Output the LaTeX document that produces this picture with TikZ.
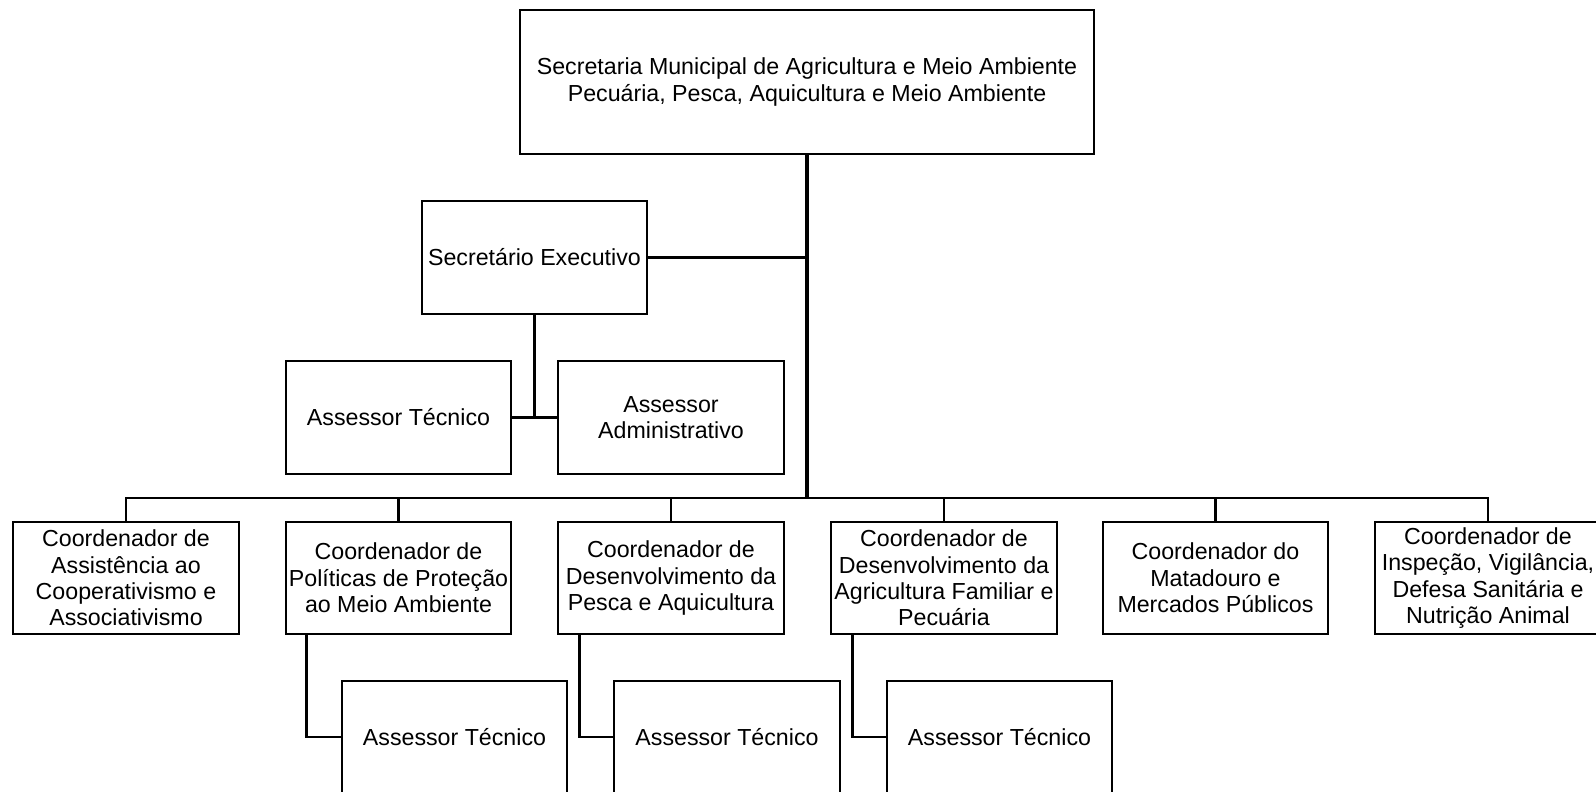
\documentclass[tikz,border=0pt]{standalone}
\usepackage{fontspec}
\setmainfont{Liberation Sans}
\begin{document}
\begin{tikzpicture}[x=0.5pt,y=-0.5pt,
  box/.style={draw, line width=1.35pt, rectangle, align=center, inner sep=0pt,
    font=\fontsize{11.6}{13.2}\selectfont},
  conn/.style={line width=1.35pt},
  trunk/.style={line width=2.1pt}]
\useasboundingbox (0,0) rectangle (1596,792);
\clip (0,0) rectangle (1596,792);
% top
\node[box, minimum width=287pt, minimum height=72pt, font=\fontsize{11.6}{13.5}\selectfont] (top) at (807,82)
  {Secretaria Municipal de Agricultura e Meio Ambiente\\Pecuária, Pesca, Aquicultura e Meio Ambiente};
% executive level
\node[box, minimum width=112.5pt, minimum height=56.5pt] (sec) at (534.5,257.5) {Secretário Executivo};
\node[box, minimum width=112.5pt, minimum height=56.5pt] (at1) at (398.5,417.5) {Assessor Técnico};
\node[box, minimum width=113pt, minimum height=56.5pt] (aadm) at (671,417.5) {Assessor\\Administrativo};
% coordinators
\node[box, minimum width=113pt, minimum height=56pt] (c1) at (126,578)
  {Coordenador de\\Assistência ao\\Cooperativismo e\\Associativismo};
\node[box, minimum width=112.5pt, minimum height=56pt] (c2) at (398.5,578)
  {Coordenador de\\Políticas de Proteção\\ao Meio Ambiente};
\node[box, minimum width=113pt, minimum height=56pt] (c3) at (671,578)
  {Coordenador de\\Desenvolvimento da\\Pesca e Aquicultura};
\node[box, minimum width=113pt, minimum height=56pt] (c4) at (944,578)
  {Coordenador de\\Desenvolvimento da\\Agricultura Familiar e\\Pecuária};
\node[box, minimum width=112.5pt, minimum height=56pt] (c5) at (1215.5,578)
  {Coordenador do\\Matadouro e\\Mercados Públicos};
\node[box, minimum width=113pt, minimum height=56pt] (c6) at (1488,578)
  {Coordenador de\\Inspeção, Vigilância,\\Defesa Sanitária e\\Nutrição Animal};
% bottom advisors
\node[box, minimum width=112.5pt, minimum height=56pt] (b1) at (454.5,737) {Assessor Técnico};
\node[box, minimum width=113pt, minimum height=56pt] (b2) at (727,737) {Assessor Técnico};
\node[box, minimum width=112.5pt, minimum height=56pt] (b3) at (999.5,737) {Assessor Técnico};
% connectors
\coordinate (bus) at (807,498);
\draw[trunk] (top.south) -- (bus);
\draw[conn] (sec.east) -- (sec.east -| top.south);
\draw[conn] (sec.south) -- (sec.south |- at1.east);
\draw[conn] (at1.east) -- (aadm.west);
\draw[conn] (c1.north) |- (bus) -| (c6.north);
\foreach \c in {c2,c3,c4,c5} \draw[conn] (\c.north) -- (\c.north |- bus);
\draw[conn] ([xshift=11pt]c2.south west) |- (b1.west);
\draw[conn] ([xshift=11.5pt]c3.south west) |- (b2.west);
\draw[conn] ([xshift=11.5pt]c4.south west) |- (b3.west);
\end{tikzpicture}
\end{document}
